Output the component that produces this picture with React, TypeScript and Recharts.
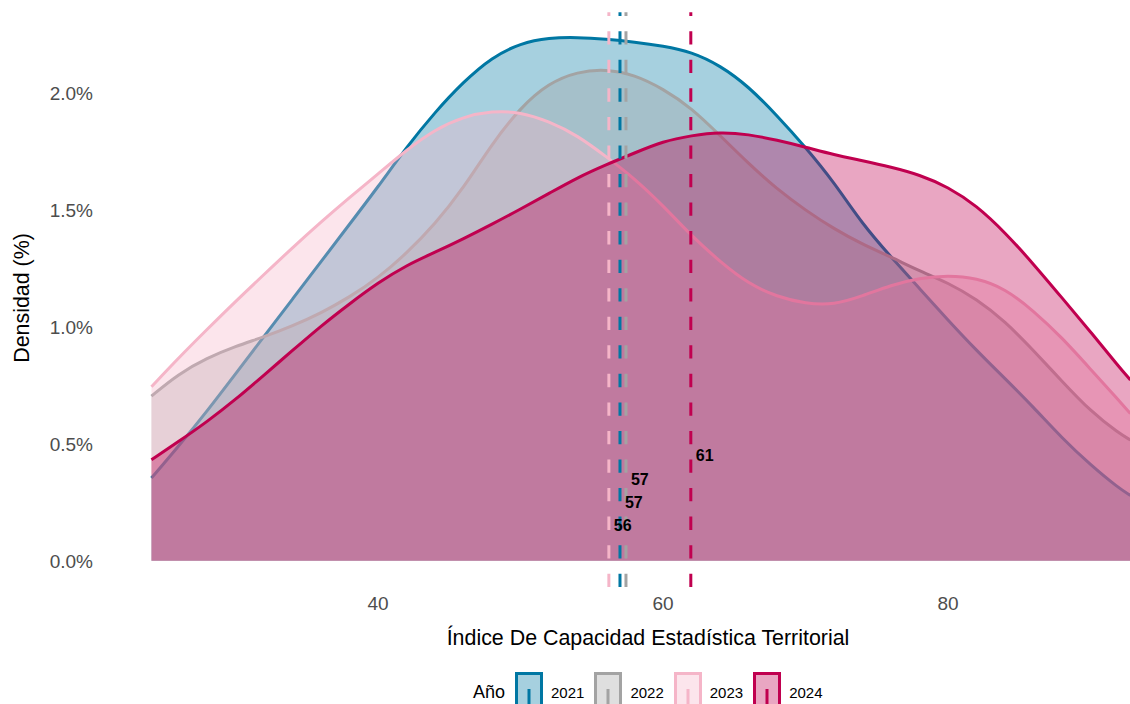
import { Area, ComposedChart, ReferenceDot, ReferenceLine, XAxis, YAxis } from 'recharts'

// puntos del eje x donde se leyó la densidad
const xValues = [
  24.1, 26, 28, 30, 32, 34, 36, 38, 40, 42, 44, 46, 48, 50, 52, 54, 56, 58, 60, 62, 64, 66, 68, 70,
  72, 74, 76, 78, 80, 82, 84, 86, 88, 90, 92, 92.8,
]

// densidad en %
const density2021 = [
  0.354, 0.49, 0.64, 0.8, 0.96, 1.12, 1.28, 1.44, 1.6, 1.77, 1.92, 2.05, 2.155, 2.215, 2.238, 2.24,
  2.232, 2.22, 2.203, 2.178, 2.12, 2.03, 1.905, 1.77, 1.62, 1.44, 1.3, 1.165, 1.03, 0.9, 0.78, 0.657,
  0.525, 0.41, 0.31, 0.28,
]
const density2022 = [
  0.705, 0.8, 0.868, 0.918, 0.958, 1.005, 1.06, 1.128, 1.21, 1.315, 1.44, 1.595, 1.785, 1.94, 2.045,
  2.093, 2.104, 2.08, 2.02, 1.938, 1.82, 1.7, 1.59, 1.5, 1.42, 1.354, 1.3, 1.24, 1.19, 1.12, 1.025,
  0.9, 0.768, 0.64, 0.545, 0.517,
]
const density2023 = [
  0.745, 0.868, 0.99, 1.11, 1.225, 1.34, 1.45, 1.555, 1.655, 1.758, 1.846, 1.9, 1.925, 1.92, 1.88,
  1.82, 1.73, 1.636, 1.52, 1.39, 1.28, 1.185, 1.13, 1.1, 1.095, 1.133, 1.18, 1.21, 1.222, 1.21, 1.165,
  1.07, 0.955, 0.82, 0.685, 0.63,
]
const density2024 = [
  0.432, 0.51, 0.595, 0.69, 0.795, 0.9, 1.005, 1.1, 1.19, 1.265, 1.32, 1.378, 1.44, 1.505, 1.572,
  1.64, 1.695, 1.745, 1.795, 1.82, 1.835, 1.825, 1.8, 1.77, 1.737, 1.712, 1.685, 1.652, 1.6, 1.52,
  1.405, 1.27, 1.125, 0.98, 0.83, 0.774,
]

const years = ['2021', '2022', '2023', '2024']
const means = [56.98, 57.4, 56.2, 61.95]
const meanLabels = ['57', '57', '56', '61']
const labelHeights = [0.25, 0.35, 0.15, 0.45]

const xTicks = [40, 60, 80]
const yTicks = [0, 0.5, 1, 1.5, 2]

const colors = ['#0077A3', '#A3A3A3', '#F5B5C8', '#C0004F']
const xDomain = [20.7, 96.35]
const yDomain = [-0.112, 2.347]

const series = [density2021, density2022, density2023, density2024]
const chartData = xValues.map((x, i) => {
  const row: Record<string, number> = { x }
  years.forEach((y, s) => (row[y] = series[s][i]))
  return row
})

const font = '"Liberation Sans", Arial, sans-serif'

function Legend() {
  return (
    <div
      style={{
        position: 'absolute',
        left: 473,
        top: 672,
        display: 'flex',
        alignItems: 'flex-start',
        fontFamily: font,
      }}
    >
      <span style={{ fontSize: 18, marginTop: 10, marginRight: 10 }}>Año</span>
      {years.map((y, i) => (
        <div key={y} style={{ display: 'flex', alignItems: 'flex-start', marginRight: 10 }}>
          <svg width={28} height={36} style={{ display: 'block' }}>
            <rect x={1.5} y={1.5} width={25} height={40} fill={colors[i]} fillOpacity={0.35} stroke={colors[i]} strokeWidth={3} />
            <line x1={14} y1={17} x2={14} y2={36} stroke={colors[i]} strokeWidth={3} />
          </svg>
          <span style={{ fontSize: 15, marginLeft: 8, marginTop: 12 }}>{y}</span>
        </div>
      ))}
    </div>
  )
}

export default function App() {
  return (
    <div
      style={{
        position: 'absolute',
        left: 0,
        top: 0,
        width: 1130,
        height: 704,
        overflow: 'hidden',
        background: '#fff',
        fontFamily: font,
      }}
    >
      <ComposedChart
        width={1190}
        height={704}
        data={chartData}
        margin={{ top: 12.3, right: 9, bottom: 87, left: 0 }}
      >
        <XAxis
          dataKey='x'
          type='number'
          domain={xDomain}
          ticks={xTicks}
          allowDataOverflow
          axisLine={false}
          tickLine={false}
          tickSize={0}
          tickMargin={10}
          height={30}
          tick={{ fill: '#4D4D4D', fontSize: 19, fontFamily: font }}
        />
        <YAxis
          type='number'
          domain={yDomain}
          ticks={yTicks}
          allowDataOverflow
          axisLine={false}
          tickLine={false}
          tickSize={0}
          tickMargin={10}
          width={103}
          tickFormatter={(v) => `${Number(v).toFixed(1)}%`}
          tick={{ fill: '#4D4D4D', fontSize: 19, fontFamily: font }}
        />
        {years.map((y, i) => (
          <Area
            key={y}
            dataKey={y}
            type='basis'
            baseValue={0}
            fill={colors[i]}
            fillOpacity={0.35}
            stroke={colors[i]}
            strokeWidth={3}
            dot={false}
            activeDot={false}
            isAnimationActive={false}
          />
        ))}
        {years.map((y, i) => (
          <ReferenceLine
            key={'m' + y}
            segment={[
              { x: means[i], y: yDomain[0] },
              { x: means[i], y: yDomain[1] },
            ]}
            stroke={colors[i]}
            strokeWidth={3}
            strokeDasharray='13.3 15.25'
          />
        ))}
        {years.map((y, i) => (
          <ReferenceDot
            key={'l' + y}
            x={means[i]}
            y={labelHeights[i]}
            r={0}
            fill='none'
            stroke='none'
            label={{
              value: meanLabels[i],
              position: 'right',
              offset: 5,
              fill: '#000',
              fontSize: 16,
              fontWeight: 700,
              fontFamily: font,
            }}
          />
        ))}
      </ComposedChart>
      <div
        style={{
          position: 'absolute',
          left: 448,
          width: 400,
          top: 626,
          fontSize: 21.4,
          whiteSpace: 'nowrap',
          display: 'flex',
          justifyContent: 'center',
        }}
      >
        Índice De Capacidad Estadística Territorial
      </div>
      <div
        style={{
          position: 'absolute',
          left: 22,
          top: 298,
          fontSize: 21.4,
          whiteSpace: 'nowrap',
          transform: 'translate(-50%, -50%) rotate(-90deg)',
        }}
      >
        Densidad (%)
      </div>
      <Legend />
    </div>
  )
}
